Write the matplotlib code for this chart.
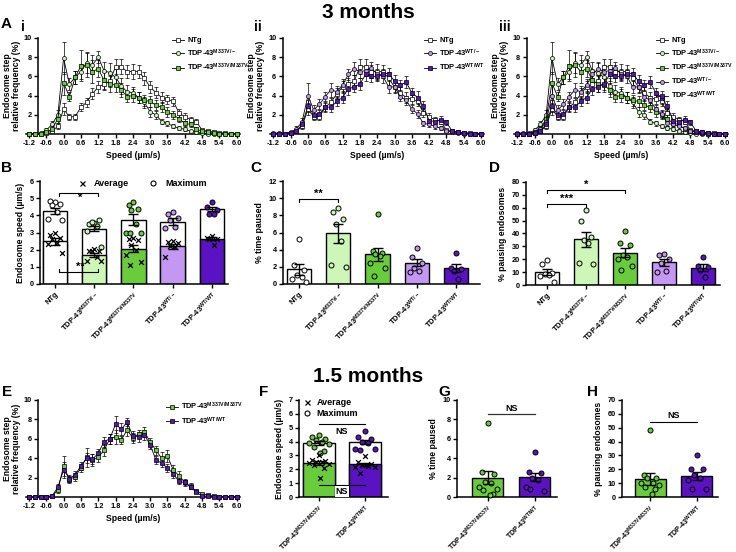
import numpy as np
import matplotlib.pyplot as plt
from matplotlib.lines import Line2D

plt.rcParams['font.family'] = ['Liberation Sans', 'DejaVu Sans']
plt.rcParams['font.weight'] = 'bold'
plt.rcParams['axes.labelweight'] = 'bold'
plt.rcParams['mathtext.fontset'] = 'custom'
plt.rcParams['mathtext.rm'] = 'Liberation Sans:bold'
plt.rcParams['mathtext.it'] = 'Liberation Sans:bold'
plt.rcParams['mathtext.bf'] = 'Liberation Sans:bold'
plt.rcParams['axes.linewidth'] = 1.1
plt.rcParams['xtick.major.width'] = 1.0
plt.rcParams['ytick.major.width'] = 1.0
plt.rcParams['xtick.major.size'] = 3
plt.rcParams['ytick.major.size'] = 3

W, H = 736, 552
TICK_FS = 5.3
LABEL_FS = 6.2

# --- speed distributions (bins of 0.2 um/s) ---
speed = np.linspace(-1.2, 6.0, 37)

ntg_freq = [0, 0, 0.05, 0.1, 0.3, 0.8, 2.6, 1.8, 1.8, 2.8, 3.3, 4.2, 4.9, 5.2, 5.5, 7.0, 7.0, 6.5, 6.5,
            6.5, 5.8, 4.9, 4.3, 3.8, 3.6, 3.4, 2.2, 1.8, 1.5, 1.3, 0.4, 0.3, 0.2, 0.15, 0.1, 0.05, 0]
ntg_err = [0, 0, 0.05, 0.1, 0.2, 0.3, 0.6, 0.3, 0.3, 0.4, 0.5, 0.6, 0.6, 0.6, 0.6, 0.8, 0.8, 0.7, 0.8,
           0.7, 0.7, 0.6, 0.6, 0.6, 0.5, 0.5, 0.4, 0.4, 0.3, 0.3, 0.1, 0.1, 0.1, 0.05, 0.05, 0.05, 0]
het_m_freq = [0, 0, 0.1, 0.4, 1.0, 2.0, 7.9, 5.2, 5.9, 6.5, 7.4, 7.2, 8.0, 6.6, 6.4, 5.9, 5.0, 4.4, 4.3,
              3.8, 3.3, 2.3, 2.0, 1.3, 1.1, 0.8, 0.6, 0.5, 0.3, 0.2, 0.1, 0.05, 0, 0, 0, 0, 0]
het_m_err = [0, 0, 0.05, 0.2, 0.4, 0.5, 1.7, 0.6, 0.7, 0.8, 1.0, 1.0, 0.6, 0.9, 1.0, 0.9, 0.8, 0.7, 0.6,
             0.6, 0.6, 0.5, 0.4, 0.3, 0.3, 0.2, 0.2, 0.2, 0.1, 0.1, 0.05, 0.05, 0, 0, 0, 0, 0]
hom_m_freq = [0, 0, 0.05, 0.2, 0.5, 1.6, 5.3, 3.9, 5.9, 7.1, 7.2, 6.5, 6.8, 5.6, 5.2, 5.1, 4.6, 3.9, 4.0,
              3.8, 3.5, 3.4, 3.0, 2.8, 2.3, 2.0, 1.6, 1.1, 1.0, 0.5, 0.3, 0.2, 0.1, 0.05, 0.05, 0, 0]
hom_m_err = [0, 0, 0.05, 0.1, 0.3, 0.5, 1.2, 0.5, 0.7, 1.6, 1.3, 1.2, 0.9, 0.9, 0.8, 0.7, 0.7, 0.6, 0.7,
             0.6, 0.6, 0.6, 0.5, 0.5, 0.5, 0.4, 0.4, 0.3, 0.3, 0.2, 0.1, 0.1, 0.05, 0.05, 0, 0, 0]
het_wt_freq = [0.1, 0.1, 0.05, 0.2, 0.5, 1.3, 4.0, 2.5, 3.1, 3.9, 4.6, 4.4, 5.1, 6.2, 6.8, 6.5, 6.6, 6.9, 6.2,
               6.0, 4.9, 4.9, 3.9, 3.5, 2.6, 2.1, 1.1, 1.0, 0.8, 0.6, 0.3, 0.2, 0.1, 0.05, 0.05, 0, 0]
het_wt_err = [0, 0, 0.05, 0.1, 0.3, 0.4, 1.3, 0.5, 0.5, 0.5, 0.7, 0.6, 0.6, 0.6, 0.7, 0.7, 0.6, 0.6, 0.6,
              0.7, 0.6, 0.5, 0.5, 0.5, 0.4, 0.4, 0.3, 0.3, 0.3, 0.2, 0.1, 0.1, 0.05, 0.05, 0, 0, 0]
hom_wt_freq = [0.05, 0.05, 0.05, 0.1, 0.3, 1.0, 2.9, 2.0, 2.1, 2.8, 2.8, 3.4, 3.8, 4.7, 4.9, 5.2, 6.2, 6.0, 6.0,
               6.3, 6.3, 5.5, 5.1, 5.4, 4.3, 3.8, 2.9, 1.4, 1.3, 1.5, 1.2, 0.3, 0.2, 0.1, 0.05, 0.05, 0]
hom_wt_err = [0, 0, 0.05, 0.1, 0.2, 0.4, 0.6, 0.4, 0.4, 0.5, 0.5, 0.5, 0.6, 0.6, 0.5, 0.6, 0.7, 0.6, 0.5,
              0.5, 0.6, 0.6, 0.5, 0.6, 0.5, 0.7, 0.5, 0.4, 0.4, 0.4, 0.3, 0.1, 0.05, 0.05, 0, 0, 0]

# 1.5 months
e_hom_m_freq = [0, 0, 0, 0.05, 0.1, 0.7, 3.2, 1.8, 2.1, 3.0, 4.1, 3.8, 4.1, 4.8, 6.0, 6.2, 5.9, 6.9, 6.1,
                6.5, 6.7, 5.7, 4.8, 4.0, 4.2, 2.8, 2.2, 1.5, 1.1, 0.6, 0.35, 0.2, 0.1, 0.05, 0.05, 0.05, 0]
e_hom_m_err = [0, 0, 0, 0, 0.05, 0.3, 1.0, 0.4, 0.4, 0.4, 1.0, 0.6, 0.5, 0.6, 0.5, 0.7, 0.4, 0.6, 0.5,
               0.4, 0.5, 0.4, 0.5, 0.6, 0.6, 0.5, 0.5, 0.4, 0.3, 0.2, 0.1, 0.05, 0.05, 0, 0, 0, 0]
e_hom_wt_freq = [0, 0, 0, 0.05, 0.1, 1.0, 2.8, 1.9, 2.3, 3.2, 4.0, 3.9, 4.5, 5.7, 6.0, 7.5, 7.0, 7.7, 6.3,
                 6.2, 6.4, 5.4, 3.8, 3.5, 3.0, 2.4, 1.6, 1.5, 1.0, 0.5, 0.1, 0.1, 0.05, 0, 0, 0, 0]
e_hom_wt_err = [0, 0, 0, 0, 0.05, 0.3, 0.8, 0.4, 0.4, 0.4, 0.5, 0.5, 0.5, 0.5, 0.5, 0.9, 0.6, 0.4, 0.5,
                0.5, 0.5, 0.4, 0.4, 0.4, 0.4, 0.4, 0.3, 0.3, 0.2, 0.1, 0.05, 0.05, 0, 0, 0, 0, 0]

# --- genotypes ---
genotypes = ['NTg', 'M337V/-', 'M337V/M337V', 'WT/-', 'WT/WT']
colors = ['#ffffff', '#cdf7b6', '#69cc3b', '#c397f2', '#5a12c2']

# B: endosome speed, 3 months
speed_max_mean = [4.25, 3.22, 3.75, 3.62, 4.35]
speed_max_sem = [0.18, 0.15, 0.32, 0.2, 0.12]
speed_avg_mean = [2.5, 1.7, 2.05, 2.2, 2.65]
speed_avg_sem = [0.2, 0.12, 0.2, 0.15, 0.08]
speed_max_pts = [[4.8, 4.85, 4.65, 4.6, 4.2, 3.8, 3.75],
                 [3.55, 3.5, 3.7, 3.6, 3.35, 3.1, 2.15],
                 [4.8, 4.6, 4.35, 4.3, 3.5, 3.0, 2.95, 2.95],
                 [4.2, 4.1, 3.85, 3.75, 3.3, 3.25],
                 [4.8, 4.5, 4.3, 4.1, 4.05]]
speed_avg_pts = [[2.95, 2.85, 2.7, 2.6, 2.4, 2.35, 1.8],
                 [2.05, 1.9, 1.9, 1.95, 1.55, 1.35, 1.35],
                 [2.7, 2.6, 2.55, 2.25, 2.0, 1.7, 1.3, 1.1],
                 [2.5, 2.45, 2.4, 2.2, 2.15, 1.55],
                 [2.8, 2.7, 2.65, 2.6, 2.3]]

# C: % time paused, 3 months
paused_mean = [1.7, 5.9, 3.45, 2.5, 1.9]
paused_sem = [0.62, 1.1, 0.75, 0.45, 0.45]
paused_pts = [[5.2, 2.2, 1.6, 1.1, 0.8, 0.6, 0.25],
              [8.9, 8.4, 7.6, 7.0, 5.0, 2.2, 2.0],
              [8.2, 3.9, 3.6, 3.5, 3.3, 2.5, 1.9, 0.95],
              [4.2, 3.2, 2.5, 1.9, 1.5, 1.4],
              [3.6, 1.9, 1.7, 1.55, 0.6]]

# D: % pausing endosomes, 3 months
pausing_mean = [10.0, 35.5, 25.0, 17.5, 13.5]
pausing_sem = [2.5, 6.0, 3.5, 2.5, 2.8]
pausing_pts = [[19.5, 16.5, 9.0, 8.5, 7.5, 7.0, 2.0],
               [58, 50, 37, 35, 33, 17, 16],
               [42, 33, 31, 23, 22, 20, 15, 12],
               [24, 23, 20, 17, 11, 10],
               [22, 15, 14, 12, 6]]

# F-H: 1.5 months
young_genotypes = ['M337V/M337V', 'WT/WT']
young_colors = ['#69cc3b', '#5a12c2']
y_speed_max_mean = [3.9, 3.95]
y_speed_max_sem = [0.12, 0.15]
y_speed_avg_mean = [2.45, 2.35]
y_speed_avg_sem = [0.12, 0.1]
y_speed_max_pts = [[4.45, 4.3, 4.2, 4.1, 4.0, 3.9, 3.8, 3.6, 3.3, 3.2],
                   [4.75, 4.3, 4.2, 4.0, 3.9, 3.5, 3.45, 3.4]]
y_speed_avg_pts = [[3.0, 2.7, 2.6, 2.55, 2.5, 2.45, 2.4, 2.3, 2.1, 1.4],
                   [2.95, 2.5, 2.4, 2.3, 2.25, 2.2, 2.15, 1.75]]
y_paused_mean = [2.0, 2.05]
y_paused_sem = [0.65, 0.45]
y_paused_pts = [[7.6, 2.6, 2.4, 1.5, 1.4, 1.0, 0.8, 0.7, 0.35, 0.2],
                [4.6, 2.6, 2.5, 2.0, 1.8, 1.0, 0.6, 0.8]]
y_pausing_mean = [13.0, 15.0]
y_pausing_sem = [4.2, 3.0]
y_pausing_pts = [[48, 16, 14, 14, 10, 10, 9, 7, 6, 2],
                 [30, 20, 20, 16, 14, 12, 6, 6]]

JIT = [0.0, -0.2, 0.2, -0.1, 0.1, -0.3, 0.3, -0.15, 0.15, 0.05]


def lab(g):
    if g == 'NTg':
        return 'NTg'
    return 'TDP-43$^{' + g + '}$'


fig = plt.figure(figsize=(W / 100, H / 100), dpi=100)


def px_axes(l, t, r, b):
    return fig.add_axes([l / W, 1 - b / H, (r - l) / W, (b - t) / H])


def style(ax):
    for s in ['top', 'right']:
        ax.spines[s].set_visible(False)
    ax.tick_params(labelsize=TICK_FS, pad=1.5)


def line_panel(ax, series, legend_xy):
    style(ax)
    ax.spines['left'].set_position(('data', -0.88))
    for y, e, g, c, m in series:
        ax.errorbar(speed, y, yerr=e, color='black', lw=0.6, ecolor='black', elinewidth=0.5,
                    capsize=1.3, capthick=0.5, marker=m, ms=2.9, mfc=c, mec='black', mew=0.5,
                    label=lab(g), clip_on=False, zorder=3)
    ax.set_xlim(-1.3, 6.1)
    ax.set_ylim(0, 10)
    ax.set_xticks(np.arange(-1.2, 6.01, 0.6))
    ax.set_xticklabels([f'{v:.1f}' for v in np.arange(-1.2, 6.01, 0.6)])
    ax.set_yticks([0, 2, 4, 6, 8, 10])
    ax.set_yticklabels(['', '2', '4', '6', '8', '10'])
    ax.set_xlabel('Speed (µm/s)', fontsize=LABEL_FS, labelpad=3)
    ax.set_ylabel('Endosome step\nrelative frequency (%)', fontsize=LABEL_FS, labelpad=2,
                  linespacing=1.0)
    h, l = ax.get_legend_handles_labels()
    h = [x[0] for x in h]
    ax.legend(h, l, loc='upper left', bbox_to_anchor=(legend_xy[0] / W, 1 - legend_xy[1] / H),
              bbox_transform=fig.transFigure, frameon=False, fontsize=5.4, handlelength=1.6,
              handletextpad=0.4, labelspacing=0.4, borderpad=0, borderaxespad=0)


def bar_panel(ax, means, sems, pts, cols, width):
    x = np.arange(len(means))
    ax.bar(x, means, width, color=cols, edgecolor='black', linewidth=1.0, zorder=1)
    for i, p in enumerate(pts):
        off = np.array(JIT[:len(p)]) * width
        ax.scatter(i + off, p, s=13, c=cols[i], edgecolors='black', linewidths=0.7, zorder=3,
                   clip_on=False)
    ax.errorbar(x, means, yerr=sems, fmt='none', ecolor='black', elinewidth=1.0, capsize=3.5,
                capthick=1.0, zorder=4)


def cat_axis(ax, gens, xlim, fs=5.5):
    ax.set_xlim(*xlim)
    ax.set_xticks(np.arange(len(gens)))
    ax.set_xticklabels([lab(g) for g in gens], rotation=45, ha='right', rotation_mode='anchor',
                       fontsize=fs)


def bracket(ax, x0, x1, y, h, text, ty, tx=None, fs=8):
    ax.plot([x0, x0, x1, x1], [y - h, y, y, y - h], color='black', lw=0.8, clip_on=False)
    ax.text((x0 + x1) / 2 if tx is None else tx, ty, text, ha='center', va='center', fontsize=fs,
            fontweight='bold')


def speed_panel(ax, max_mean, max_sem, avg_mean, avg_sem, max_pts, avg_pts, cols, width):
    x = np.arange(len(max_mean))
    ax.bar(x, max_mean, width, color='white', edgecolor='black', linewidth=1.0, zorder=1)
    ax.bar(x, avg_mean, width, color=cols, edgecolor='black', linewidth=1.0, zorder=2)
    for i, p in enumerate(max_pts):
        off = np.array(JIT[:len(p)]) * width
        ax.scatter(i + off, p, s=13, c=cols[i], edgecolors='black', linewidths=0.7, zorder=3)
    for i, p in enumerate(avg_pts):
        off = np.array(JIT[:len(p)]) * width
        ax.scatter(i + off, p, s=12, marker='x', c='black', linewidths=0.9, zorder=3)
    ax.errorbar(x, max_mean, yerr=max_sem, fmt='none', ecolor='black', elinewidth=1.0,
                capsize=3.5, capthick=1.0, zorder=4)
    ax.errorbar(x, avg_mean, yerr=avg_sem, fmt='none', ecolor='black', elinewidth=1.0,
                capsize=3.5, capthick=1.0, zorder=4)


avg_handle = Line2D([], [], marker='x', ls='none', color='black', ms=3.6, mew=0.9)
max_handle = Line2D([], [], marker='o', ls='none', mfc='white', mec='black', ms=3.6, mew=0.8)

# ---------------- A ----------------
ax_i = px_axes(26.1, 38, 239.6, 134)
line_panel(ax_i, [(ntg_freq, ntg_err, 'NTg', colors[0], 's'),
                  (het_m_freq, het_m_err, 'M337V/-', colors[1], 'o'),
                  (hom_m_freq, hom_m_err, 'M337V/M337V', colors[2], 's')], (172, 37))
ax_ii = px_axes(270.4, 38, 484, 134)
line_panel(ax_ii, [(ntg_freq, ntg_err, 'NTg', colors[0], 's'),
                   (het_wt_freq, het_wt_err, 'WT/-', colors[3], 'o'),
                   (hom_wt_freq, hom_wt_err, 'WT/WT', colors[4], 's')], (424, 37))
ax_iii = px_axes(514.4, 38, 728, 134)
line_panel(ax_iii, [(ntg_freq, ntg_err, 'NTg', colors[0], 's'),
                    (het_m_freq, het_m_err, 'M337V/-', colors[1], 'o'),
                    (hom_m_freq, hom_m_err, 'M337V/M337V', colors[2], 's'),
                    (het_wt_freq, het_wt_err, 'WT/-', colors[3], 'o'),
                    (hom_wt_freq, hom_wt_err, 'WT/WT', colors[4], 's')], (656, 37))

# ---------------- B ----------------
ax_b = px_axes(40, 181, 228, 284)
style(ax_b)
speed_panel(ax_b, speed_max_mean, speed_max_sem, speed_avg_mean, speed_avg_sem,
            speed_max_pts, speed_avg_pts, colors, 0.62)
ax_b.set_ylim(0, 6)
ax_b.set_yticks(range(0, 7))
cat_axis(ax_b, genotypes, (-0.38, 4.41))
ax_b.set_ylabel('Endosome speed (µm/s)', fontsize=LABEL_FS, labelpad=3)
bracket(ax_b, 0.1, 1.1, 5.3, 0.15, '*', 5.0, tx=0.64)
bracket(ax_b, 0.1, 1.1, 0.72, -0.15, '**', 1.0, tx=0.64)
ax_b.legend([avg_handle, max_handle], ['Average', 'Maximum'], ncol=2, loc='center',
            bbox_to_anchor=(142 / W, 1 - 184 / H), bbox_transform=fig.transFigure, frameon=False,
            fontsize=6.5, handletextpad=0.8, columnspacing=2.2, handlelength=1.0, borderpad=0)

# ---------------- C ----------------
ax_c = px_axes(283, 181, 480, 284)
style(ax_c)
bar_panel(ax_c, paused_mean, paused_sem, paused_pts, colors, 0.62)
ax_c.set_ylim(0, 12)
ax_c.set_yticks(range(0, 13, 2))
cat_axis(ax_c, genotypes, (-0.41, 4.61))
ax_c.set_ylabel('% time paused', fontsize=LABEL_FS, labelpad=3)
bracket(ax_c, 0, 1, 9.9, 0.35, '**', 10.5)

# ---------------- D ----------------
ax_d = px_axes(526, 182, 720, 285)
style(ax_d)
bar_panel(ax_d, pausing_mean, pausing_sem, pausing_pts, colors, 0.62)
ax_d.set_ylim(0, 80)
ax_d.set_yticks(range(0, 81, 10))
cat_axis(ax_d, genotypes, (-0.54, 4.44))
ax_d.set_ylabel('% pausing endosomes', fontsize=LABEL_FS, labelpad=3)
bracket(ax_d, 0, 1, 63, 2.2, '***', 67)
bracket(ax_d, 0, 2, 74, 2.2, '*', 77.5)

# ---------------- E ----------------
ax_e = px_axes(26.1, 400, 239.6, 497)
line_panel(ax_e, [(e_hom_m_freq, e_hom_m_err, 'M337V/M337V', colors[2], 's'),
                  (e_hom_wt_freq, e_hom_wt_err, 'WT/WT', colors[4], 's')], (166, 401))

# ---------------- F ----------------
ax_f = px_axes(299, 400, 388, 497)
style(ax_f)
speed_panel(ax_f, y_speed_max_mean, y_speed_max_sem, y_speed_avg_mean, y_speed_avg_sem,
            y_speed_max_pts, y_speed_avg_pts, young_colors, 0.7)
ax_f.set_ylim(0, 7)
ax_f.set_yticks(range(0, 8))
cat_axis(ax_f, young_genotypes, (-0.43, 1.5), fs=5.1)
ax_f.set_ylabel('Endosome speed (µm/s)', fontsize=LABEL_FS, labelpad=3)
ax_f.plot([0, 1], [5.3, 5.3], color='black', lw=0.8)
ax_f.text(0.5, 4.75, 'NS', ha='center', va='center', fontsize=6.5)
ax_f.plot([0, 1], [0.87, 0.87], color='black', lw=0.8, zorder=5)
ax_f.text(0.5, 0.38, 'NS', ha='center', va='center', fontsize=6.5, zorder=5,
          bbox=dict(boxstyle='square,pad=0.1', fc='white', ec='none'))
ax_f.legend([avg_handle, max_handle], ['Average', 'Maximum'], loc='upper left',
            bbox_to_anchor=(302 / W, 1 - 398 / H), bbox_transform=fig.transFigure, frameon=False,
            fontsize=6.5, handletextpad=0.6, handlelength=1.0, labelspacing=0.25, borderpad=0,
            borderaxespad=0)

# ---------------- G ----------------
ax_g = px_axes(457, 400, 557, 497)
style(ax_g)
bar_panel(ax_g, y_paused_mean, y_paused_sem, y_paused_pts, young_colors, 0.66)
ax_g.set_ylim(0, 10)
ax_g.set_yticks(range(0, 11, 2))
cat_axis(ax_g, young_genotypes, (-0.66, 1.47), fs=5.1)
ax_g.set_ylabel('% time paused', fontsize=LABEL_FS, labelpad=3)
ax_g.plot([0, 1], [8.55, 8.55], color='#333333', lw=0.9)
ax_g.text(0.5, 9.15, 'NS', ha='center', va='center', fontsize=6.5)

# ---------------- H ----------------
ax_h = px_axes(622, 400, 718, 497)
style(ax_h)
bar_panel(ax_h, y_pausing_mean, y_pausing_sem, y_pausing_pts, young_colors, 0.66)
ax_h.set_ylim(0, 70)
ax_h.set_yticks(range(0, 71, 10))
cat_axis(ax_h, young_genotypes, (-0.6, 1.45), fs=5.1)
ax_h.set_ylabel('% pausing endosomes', fontsize=LABEL_FS, labelpad=3)
ax_h.plot([0, 1], [54, 54], color='black', lw=0.8)
ax_h.text(0.5, 58.5, 'NS', ha='center', va='center', fontsize=6.5)

# ---------------- titles & panel letters ----------------
fig.text(368 / W, 1 - 12 / H, '3 months', ha='center', va='center', fontsize=15, fontweight='bold')
fig.text(368 / W, 1 - 377 / H, '1.5 months', ha='center', va='center', fontsize=15, fontweight='bold')
for t, x, y, fs in [('A', 6, 24, 11), ('i', 23, 27, 10), ('ii', 258, 27, 10), ('iii', 505, 27, 10),
                    ('B', 7, 168, 11), ('C', 256, 168, 11), ('D', 495, 168, 11),
                    ('E', 7, 392, 11), ('F', 264, 392, 11), ('G', 444, 392, 11), ('H', 592, 392, 11)]:
    fig.text(x / W, 1 - y / H, t, ha='center', va='center', fontsize=fs, fontweight='bold')

fig.savefig('out.png', dpi=100)
